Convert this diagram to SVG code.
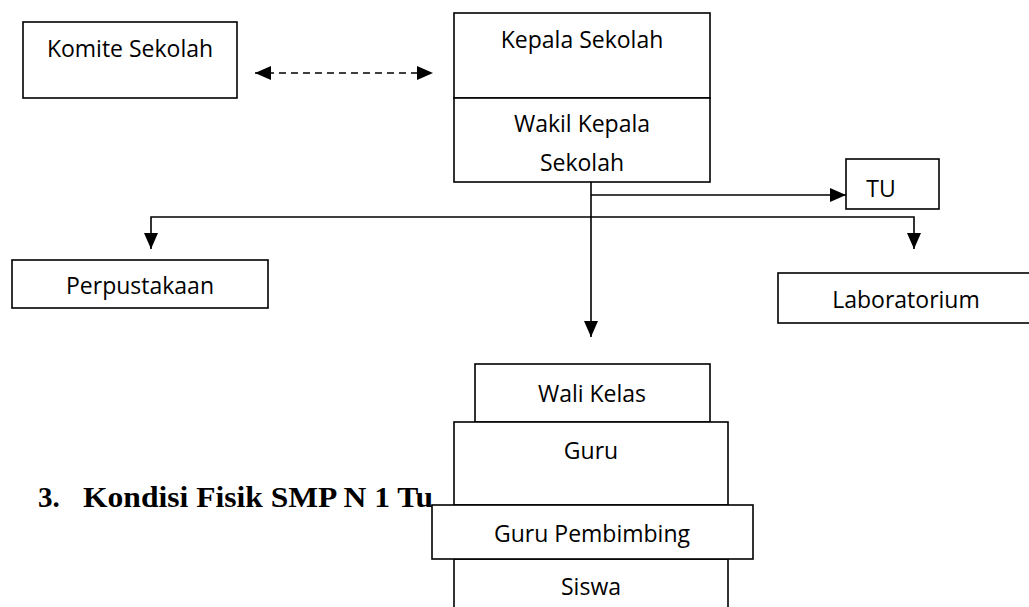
<svg xmlns="http://www.w3.org/2000/svg" width="1029" height="607" viewBox="0 0 1029 607">
<style>
.box{fill:#fff;stroke:#000;stroke-width:1.6}
.lbl{font-family:"Open Sans","Noto Sans",sans-serif;font-size:23px;fill:#000;text-anchor:middle}
.ln{fill:none;stroke:#000;stroke-width:1.6}
.head{font-family:"Liberation Serif","Times New Roman",serif;font-weight:bold;font-size:29px;fill:#000}
</style>
<defs>
<marker id="ah" markerUnits="userSpaceOnUse" markerWidth="16" markerHeight="16" viewBox="0 0 16 16" refX="16" refY="8" orient="auto-start-reverse">
<path d="M0,1 L16,8 L0,15 Z" fill="#000"/>
</marker>
</defs>
<rect width="1029" height="607" fill="#fff"/>
<text class="head" x="38" y="507">3.</text>
<text class="head" x="83" y="507" textLength="350" lengthAdjust="spacingAndGlyphs">Kondisi Fisik SMP N 1 Tu</text>
<g id="connectors">
<line class="ln" x1="255" y1="73" x2="433" y2="73" stroke-dasharray="7 5" marker-start="url(#ah)" marker-end="url(#ah)"/>
<path class="ln" d="M591,182 V337" marker-end="url(#ah)"/>
<path class="ln" d="M591,195 H846" marker-end="url(#ah)"/>
<path class="ln" d="M591,217 H151 V249" marker-end="url(#ah)"/>
<path class="ln" d="M591,217 H914 V249" marker-end="url(#ah)"/>
</g>
<g id="komite">
<rect class="box" x="23" y="22" width="214" height="76"/>
<text class="lbl" x="130" y="57">Komite Sekolah</text>
</g>
<g id="kepala">
<rect class="box" x="454" y="13" width="256" height="85"/>
<text class="lbl" x="582" y="48">Kepala Sekolah</text>
</g>
<g id="wakil">
<rect class="box" x="454" y="98" width="256" height="84"/>
<text class="lbl" x="582" y="132">Wakil Kepala</text>
<text class="lbl" x="582" y="171">Sekolah</text>
</g>
<g id="tu">
<rect class="box" x="846" y="159" width="93" height="50"/>
<text class="lbl" x="881" y="197">TU</text>
</g>
<g id="perpustakaan">
<rect class="box" x="12" y="260" width="256" height="48"/>
<text class="lbl" x="140" y="294">Perpustakaan</text>
</g>
<g id="laboratorium">
<rect class="box" x="778" y="273" width="270" height="50"/>
<text class="lbl" x="906" y="308">Laboratorium</text>
</g>
<g id="wali-kelas">
<rect class="box" x="475" y="364" width="235" height="58"/>
<text class="lbl" x="592" y="402">Wali Kelas</text>
</g>
<g id="guru">
<rect class="box" x="454" y="422" width="274" height="83"/>
<text class="lbl" x="591" y="459">Guru</text>
</g>
<g id="siswa">
<rect class="box" x="454" y="559" width="274" height="70"/>
<text class="lbl" x="591" y="595">Siswa</text>
</g>
<g id="guru-pembimbing">
<rect class="box" x="432" y="505" width="321" height="54"/>
<text class="lbl" x="592" y="542">Guru Pembimbing</text>
</g>
</svg>
